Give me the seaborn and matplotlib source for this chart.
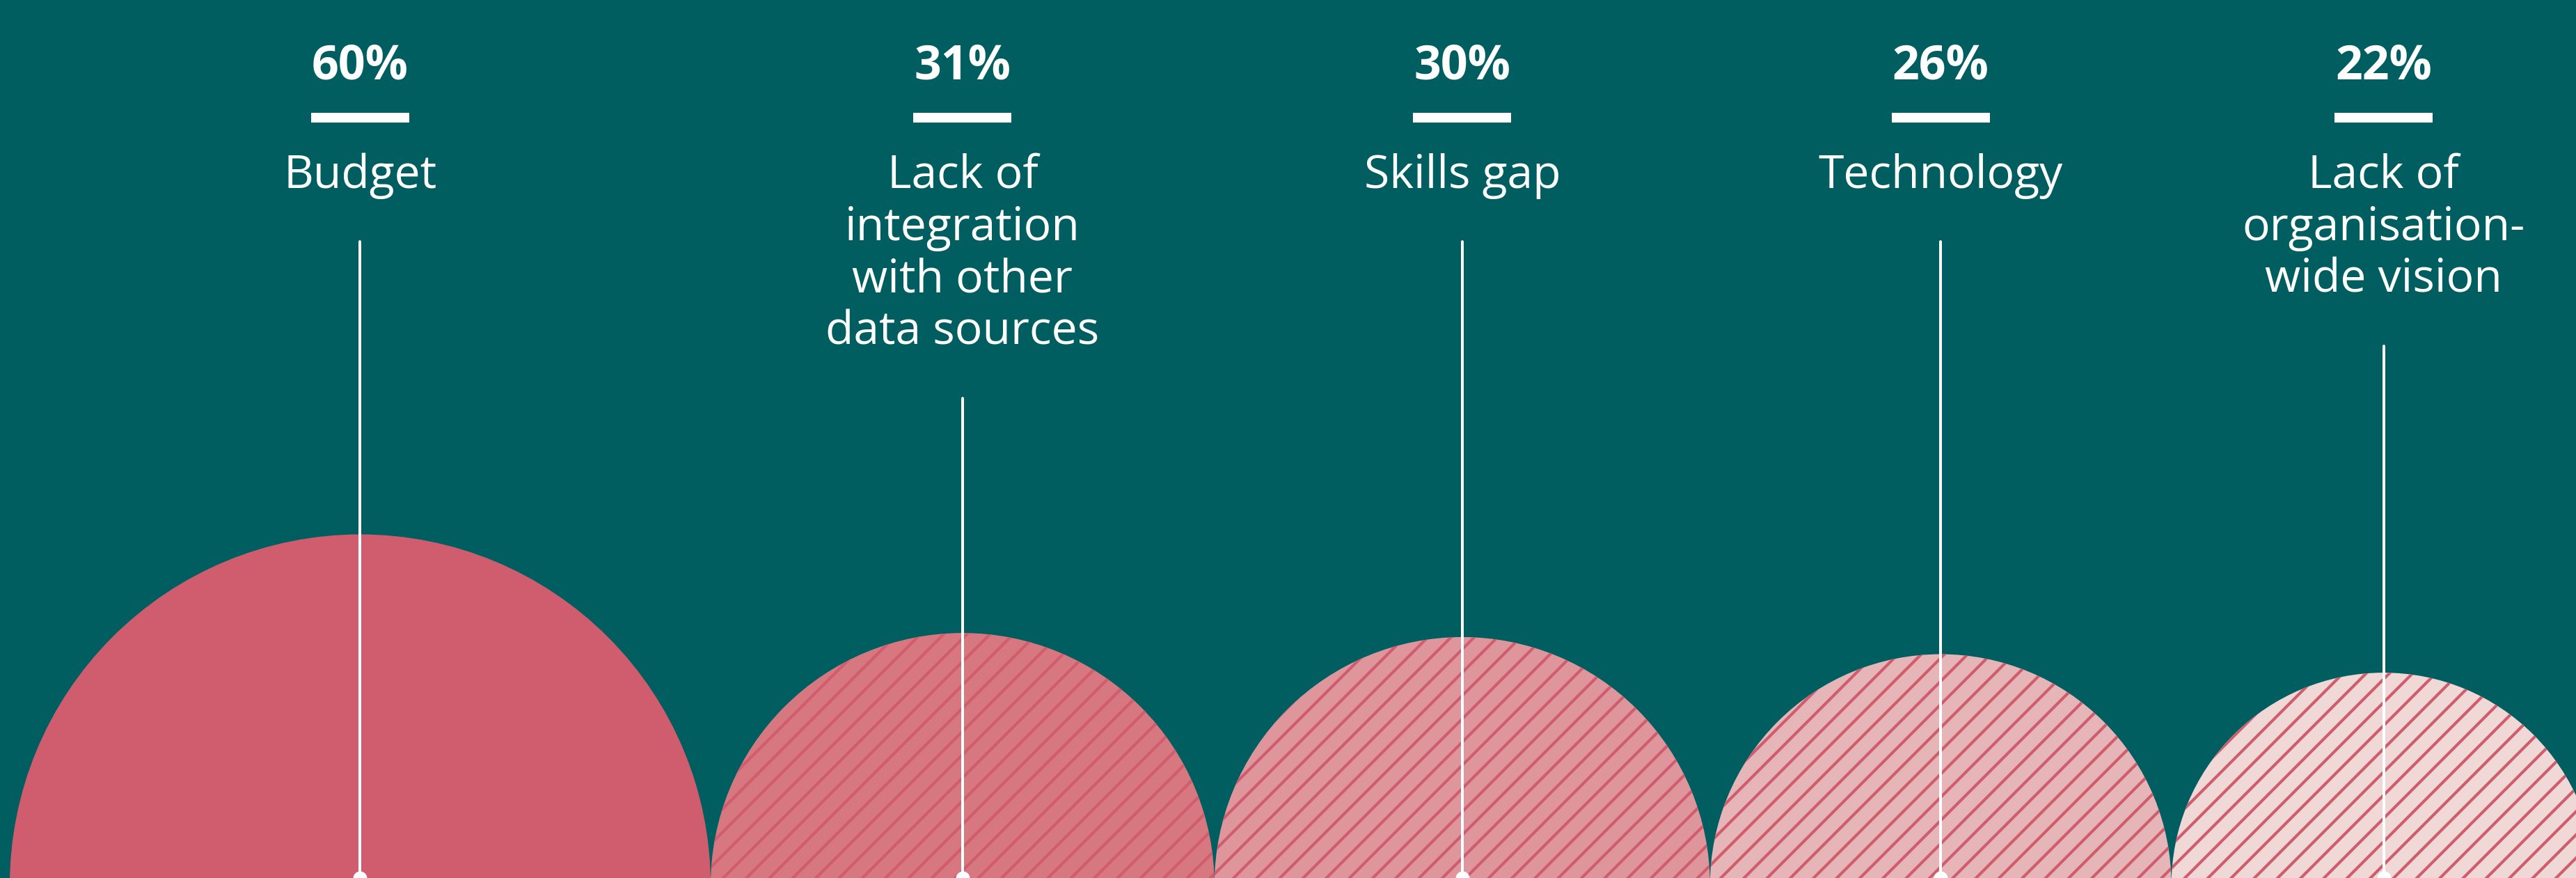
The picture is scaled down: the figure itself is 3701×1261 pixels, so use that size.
import numpy as np
import matplotlib
matplotlib.use("Agg")
import matplotlib.pyplot as plt
from matplotlib.patches import Circle
from matplotlib.transforms import blended_transform_factory
import seaborn as sns

# ---- data ----
categories = ["Budget",
              "Lack of\nintegration\nwith other\ndata sources",
              "Skills gap",
              "Technology",
              "Lack of\norganisation-\nwide vision"]
values = [60, 31, 30, 26, 22]
pct_labels = ["60%", "31%", "30%", "26%", "22%"]
fill_colors = ["#D05D6E", "#D77880", "#DE969C", "#E5B5B8", "#F0D8D7"]
hatch_styles = ["", "//", "//", "//", "//"]
HATCH_COLOR = "#D05D6E"
BG = "#005E60"

# ---- canvas ----
W, H, DPI = 3701, 1261, 200
sns.set_theme(style="white", rc={"axes.facecolor": BG, "figure.facecolor": BG})
plt.rcParams['font.family'] = ['Open Sans', 'DejaVu Sans']
plt.rcParams['hatch.linewidth'] = 1.5

fig = plt.figure(figsize=(W / DPI, H / DPI), dpi=DPI, facecolor=BG)
ax = fig.add_axes([0, 0, 1, 1])
ax.set_facecolor(BG)
ax.set_axis_off()

PX = 65.0                      # pixels per data unit
pt = 72.0 / DPI                # points per pixel
radii = np.sqrt(np.array(values, dtype=float))
centers = np.concatenate([[0.0], np.cumsum(radii[:-1] + radii[1:])])

left = -(radii[0] + 14 / PX)

cy = -10 / PX
for cx, r, fc, h in zip(centers, radii, fill_colors, hatch_styles):
    c = Circle((cx, cy), r, facecolor=fc, edgecolor=HATCH_COLOR,
               linewidth=0, hatch=h if h else None, zorder=1)
    ax.add_patch(c)

trans = blended_transform_factory(ax.transData, ax.transAxes)

def yfrac(px_from_top):
    return 1 - px_from_top / H

for cx, lab, pct in zip(centers, categories, pct_labels):
    ax.text(cx, yfrac(114), pct, transform=trans, ha='center', va='baseline',
            fontsize=24.5, fontweight='bold', color='white')
    bw = 141 / PX
    ax.plot([cx - bw / 2, cx + bw / 2], [yfrac(169), yfrac(169)], transform=trans,
            color='white', lw=14 * pt, solid_capstyle='butt')
    lines = lab.split("\n")
    for i, ln in enumerate(lines):
        ax.text(cx, yfrac(270 + 75 * i), ln, transform=trans, ha='center',
                va='baseline', fontsize=23.8, color='white')
    top = 270 + 75 * (len(lines) - 1) + 77
    ax.axvline(cx, ymin=0, ymax=yfrac(top), color='white', lw=4 * pt, zorder=3)

sns.scatterplot(x=centers, y=np.zeros_like(centers), ax=ax, color='white',
                s=(20 * pt) ** 2, linewidth=0, zorder=4, legend=False)
ax.set_xlim(left, left + W / PX)
ax.set_ylim(0, H / PX)

fig.savefig("out.png", dpi=DPI, facecolor=BG)
